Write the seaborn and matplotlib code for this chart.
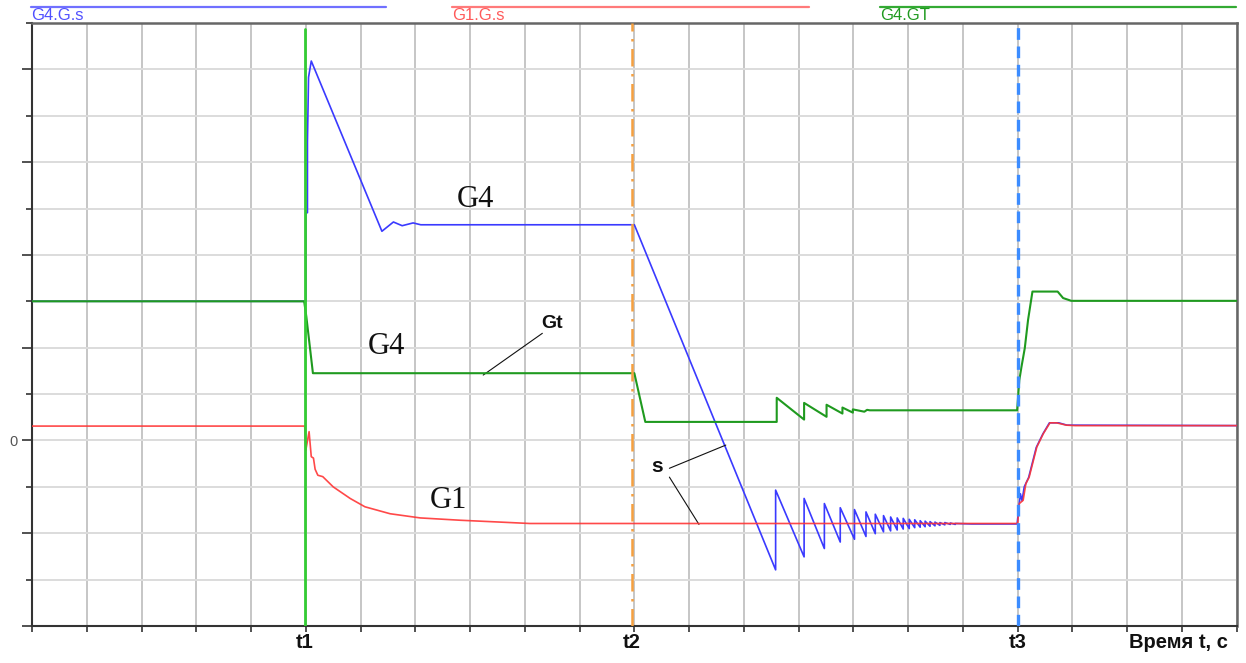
import matplotlib
matplotlib.use("Agg")
import matplotlib.pyplot as plt
from matplotlib.lines import Line2D
from matplotlib.ticker import FixedLocator, FixedFormatter, NullFormatter
import matplotlib.transforms as mtransforms
import numpy as np
import pandas as pd
import seaborn as sns

# ---------------- data (x in time grid units, y in value units) ----------------
g4_s_x = [0, 5.0, 5.0, 5.03, 5.03, 5.05, 5.1, 6.39, 6.60, 6.76, 6.96, 7.1, 11.0,
          13.58, 13.58, 14.10, 14.10, 14.47, 14.47, 14.76, 14.76, 15.02, 15.02,
          15.23, 15.23, 15.40, 15.40, 15.55, 15.55, 15.68, 15.68, 15.80, 15.80,
          15.91, 15.91, 16.02, 16.02, 16.12, 16.12, 16.22, 16.22, 16.31, 16.31,
          16.40, 16.40, 16.49, 16.49, 16.58, 16.58, 16.67, 16.67, 16.77, 16.77,
          16.86, 16.86, 17.16, 17.99, 18.02, 18.05, 18.08, 18.12, 18.20, 18.34,
          18.46, 18.58, 18.75, 18.90, 22.0]
g4_s_y = [3.0, 3.0, 4.91, 4.91, 6.44, 7.83, 8.18, 4.51, 4.71, 4.63, 4.69, 4.65, 4.65,
          -2.79, -1.07, -2.51, -1.25, -2.33, -1.36, -2.19, -1.45, -2.13, -1.49,
          -2.07, -1.54, -2.01, -1.59, -1.97, -1.62, -1.95, -1.65, -1.93, -1.67,
          -1.91, -1.68, -1.90, -1.70, -1.88, -1.71, -1.87, -1.73, -1.86, -1.74,
          -1.85, -1.75, -1.84, -1.76, -1.83, -1.77, -1.82, -1.77, -1.81, -1.78,
          -1.81, -1.79, -1.80, -1.80, -1.45, -1.15, -1.30, -1.00, -0.80, -0.15,
          0.14, 0.38, 0.38, 0.33, 0.32]

g1_s_x = [0, 4.98, 5.0, 5.06, 5.1, 5.14, 5.17, 5.22, 5.31, 5.50, 5.81, 6.08, 6.54,
          7.09, 7.82, 8.55, 9.09, 18.0, 18.03, 18.10, 18.15, 18.21, 18.35, 18.47,
          18.59, 18.71, 18.89, 19.05, 22.0]
g1_s_y = [0.31, 0.31, -0.21, 0.19, -0.35, -0.38, -0.62, -0.75, -0.78, -1.00, -1.25,
          -1.43, -1.58, -1.67, -1.72, -1.76, -1.79, -1.79, -1.36, -1.29, -0.93,
          -0.79, -0.14, 0.15, 0.38, 0.38, 0.33, 0.32, 0.32]

g4_gt_x = [0, 4.97, 5.01, 5.13, 11.0, 11.2, 13.6, 13.6, 14.10, 14.10, 14.51, 14.51,
           14.80, 14.80, 14.99, 14.99, 15.2, 15.25, 15.3, 15.9, 17.99, 18.03, 18.07,
           18.13, 18.19, 18.27, 18.73, 18.83, 18.98, 22.0]
g4_gt_y = [3.0, 3.0, 2.67, 1.45, 1.45, 0.40, 0.40, 0.92, 0.45, 0.81, 0.51, 0.77,
           0.58, 0.71, 0.60, 0.67, 0.62, 0.66, 0.65, 0.65, 0.65, 1.30, 1.59,
           1.99, 2.60, 3.21, 3.21, 3.07, 3.01, 3.01]

event_x = [4.98, 10.96, 18.0]
event_labels = ["t1", "t2", "t3"]
axis_title = "Время t, с"
axis_title_x = 20.94
series_names = ["G4.G.s", "G1.G.s", "G4.GT"]

# ---------------- styling ----------------
W, H = 1246, 663
sns.set_style("white")
plt.rcParams["font.family"] = ["Liberation Sans", "DejaVu Sans"]

fig = plt.figure(figsize=(W / 100, H / 100), dpi=100)
ax = fig.add_axes([32 / W, 37 / H, 1204.7 / W, 603 / H])

c_blue = "#3a3aff"
c_red = "#ff3535"
c_green = "#1f9a1f"

df_b = pd.DataFrame({"x": g4_s_x, "y": g4_s_y})
df_r = pd.DataFrame({"x": g1_s_x, "y": g1_s_y})
df_g = pd.DataFrame({"x": g4_gt_x, "y": g4_gt_y})

sns.lineplot(data=df_b, x="x", y="y", estimator=None, sort=False, ax=ax,
             color=c_blue, lw=1.2, zorder=3)
sns.lineplot(data=df_g, x="x", y="y", estimator=None, sort=False, ax=ax,
             color=c_green, lw=1.5, zorder=4)
sns.lineplot(data=df_r, x="x", y="y", estimator=None, sort=False, ax=ax,
             color=c_red, lw=1.2, zorder=5, alpha=0.9)

# event markers
ax.axvline(event_x[0], ymin=0, ymax=0.99, color="#33cc33", lw=2.0, zorder=6)
ax.axvline(event_x[1], color="#f5a040", lw=1.8, ls=(0, (7, 3, 1, 3)), zorder=6)
ax.axvline(event_x[2], color="#3c8cff", lw=2.4, ls=(0, (3.5, 2)), zorder=7)

ax.set_xlim(0, 22)
ax.set_ylim(-4, 9)

# x ticks: grid at every unit
ax.xaxis.set_major_locator(FixedLocator(np.arange(0, 23)))
ax.xaxis.set_major_formatter(NullFormatter())
ax.tick_params(axis="x", which="major", direction="out", length=4, width=1.2,
               color="#333333", bottom=True)

# event labels and axis title under the axis
trans = mtransforms.blended_transform_factory(ax.transData, ax.transAxes)
for xv, lab in zip(event_x + [axis_title_x], event_labels + [axis_title]):
    ax.text(xv, -0.012, lab, transform=trans, ha="center", va="top",
            fontsize=14.5, fontweight="bold", color="#111111")

# y ticks: major even, minor odd, label only 0
ax.yaxis.set_major_locator(FixedLocator(np.arange(-4, 10, 2)))
ax.yaxis.set_major_formatter(FixedFormatter(["", "", "0", "", "", "", ""]))
ax.yaxis.set_minor_locator(FixedLocator(np.arange(-3, 10, 2)))
ax.tick_params(axis="y", which="major", direction="out", length=7, width=1.2,
               color="#333333", labelsize=10.5, labelcolor="#555555", pad=3, left=True)
ax.tick_params(axis="y", which="minor", direction="out", length=4, width=1.2,
               color="#333333", left=True)

ax.set_xlabel("")
ax.set_ylabel("")

ax.xaxis.grid(True, which="major", color="#c6c6c6", lw=1.4, zorder=0)
ax.yaxis.grid(True, which="both", color="#dcdcdc", lw=1.4, zorder=0)
ax.set_axisbelow(True)

for side in ["left", "bottom"]:
    ax.spines[side].set_color("#333333")
    ax.spines[side].set_linewidth(1.5)
for side in ["top", "right"]:
    ax.spines[side].set_color("#666666")
    ax.spines[side].set_linewidth(1.8)
    ax.spines[side].set_visible(True)

# annotations
serif = ["Liberation Serif", "DejaVu Serif"]
ax.text(8.09, 5.19, "G4", fontsize=22, family=serif, ha="center", va="center", color="#111111")
ax.text(6.47, 2.03, "G4", fontsize=22, family=serif, ha="center", va="center", color="#111111")
ax.text(7.60, -1.29, "G1", fontsize=22, family=serif, ha="center", va="center", color="#111111")
ax.text(9.50, 2.52, "Gt", fontsize=14, fontweight="bold", ha="center", va="center", color="#111111")
ax.text(11.41, -0.57, "s", fontsize=15, fontweight="bold", ha="center", va="center", color="#111111")
line_kw = dict(arrowstyle="-", color="#111111", lw=0.8, shrinkA=0, shrinkB=0)
ax.annotate("", xy=(8.24, 1.41), xytext=(9.32, 2.31), arrowprops=line_kw)
ax.annotate("", xy=(12.67, -0.10), xytext=(11.64, -0.60), arrowprops=line_kw)
ax.annotate("", xy=(12.18, -1.81), xytext=(11.64, -0.79), arrowprops=line_kw)

# series headers above the plot
hdr = [(31, 386, "#7070ff", "#5050ff"), (452, 809, "#ff7a7a", "#ff5a5a"),
       (880, 1236, "#33aa33", "#1f9a1f")]
for (x0, x1, lc, tc), name in zip(hdr, series_names):
    fig.add_artist(Line2D([x0 / W, x1 / W], [1 - 6.7 / H, 1 - 6.7 / H],
                          transform=fig.transFigure, color=lc, lw=1.6))
    fig.text(x0 / W, 1 - 15.5 / H, name, fontsize=12, color=tc, ha="left", va="center")

fig.savefig("out.png", dpi=100)
